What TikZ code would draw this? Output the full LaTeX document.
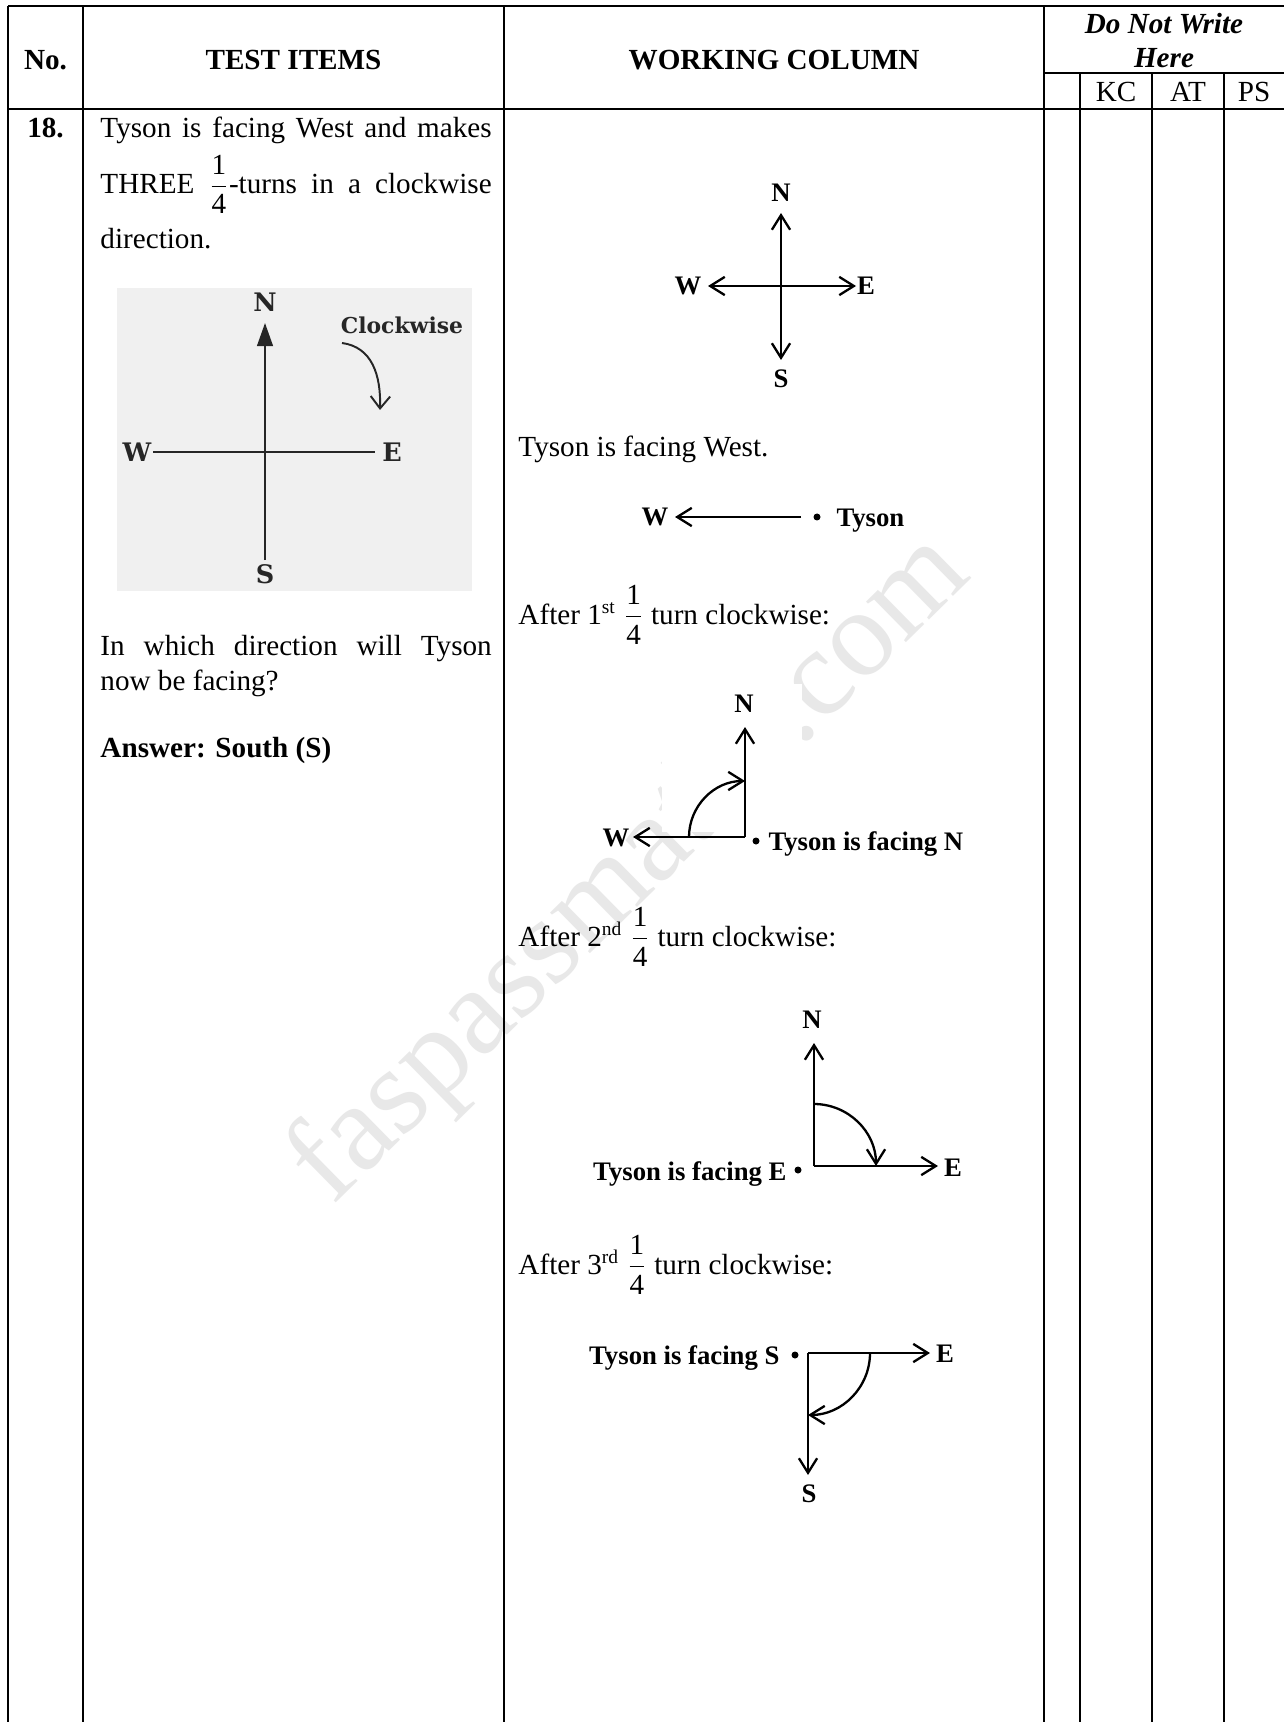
\documentclass[tikz,border=0pt]{standalone}
\usepackage{fontspec}
\setmainfont{Liberation Serif}
\newfontfamily\scanfont{DejaVu Serif}
\usetikzlibrary{arrows.meta}
\newcommand{\qfrac}{\ensuremath{\displaystyle\frac{\mbox{1}}{\mbox{4}}}}
\begin{document}
\begin{tikzpicture}[x=0.4115pt,y=-0.4115pt,
  tbl/.style={line width=0.85pt},
  hdr/.style={font=\fontsize{12}{14}\selectfont\bfseries, inner sep=0, anchor=base},
  hdn/.style={font=\fontsize{12}{14}\selectfont, inner sep=0, anchor=base},
  txt/.style={font=\fontsize{12}{14}\selectfont, inner sep=0, anchor=base west},
  lbl/.style={font=\fontsize{11}{13}\selectfont\bfseries, inner sep=0},
  cmp/.style={line width=0.95pt, -{Straight Barb[length=6pt,width=7.5pt]}},
  scan/.style={font=\scanfont\bfseries\fontsize{10.5}{12}\selectfont, text=black!85, inner sep=0},
  sline/.style={line width=0.8pt, draw=black!85},
  wmark/.style={font=\fontsize{51}{51}\selectfont, text=black!9, inner sep=0}
]
\useasboundingbox (0,0) rectangle (1284,1722);
\fill[white] (0,0) rectangle (1284,1722);

% watermark
\node[wmark, rotate=44.5] (wm) at (632,870) {faspassmaths.com};
\fill[white] (662,684) rectangle (802,832);

% table
\draw[tbl] (8,6) -- (1284,6);
\draw[tbl] (8,109) -- (1284,109);
\draw[tbl] (1044,73) -- (1284,73);
\draw[tbl] (8,6) -- (8,1722);
\draw[tbl] (83,6) -- (83,1722);
\draw[tbl] (504,6) -- (504,1722);
\draw[tbl] (1044,6) -- (1044,1722);
\draw[tbl] (1080,73) -- (1080,1722);
\draw[tbl] (1152,73) -- (1152,1722);
\draw[tbl] (1224,73) -- (1224,1722);

% header
\node[hdr] (hno) at (45.5,70) {No.};
\node[hdr] (hti) at (293.5,70) {TEST ITEMS};
\node[hdr] (hwc) at (774,70) {WORKING COLUMN};
\node[hdr, font=\fontsize{12}{14}\selectfont\bfseries\itshape] (hdn1) at (1164,34) {Do Not Write};
\node[hdr, font=\fontsize{12}{14}\selectfont\bfseries\itshape] (hdn2) at (1164,68) {Here};
\node[hdn] (hkc) at (1116,102) {KC};
\node[hdn] (hat) at (1188,102) {AT};
\node[hdn] (hps) at (1254,102) {PS};

% left column
\node[hdr] (num) at (45.5,138) {18.};
\node[txt] (l1) at (100,138) {\makebox[161pt][s]{Tyson is facing West and makes}};
\node[txt] (l2) at (100,194) {\makebox[161pt][s]{THREE \qfrac-turns in a clockwise}};
\node[txt] (l3) at (100,249) {direction.};
\node[txt] (l4) at (100,655) {\makebox[161pt][s]{In which direction will Tyson}};
\node[txt] (l5) at (100,690) {now be facing?};
\node[txt, font=\fontsize{12}{14}\selectfont\bfseries] (l6) at (100,757) {Answer: South (S)};

% scanned compass
\fill[black!6] (117,288) rectangle (472,591);
\coordinate (sn) at (265,323);
\coordinate (ss) at (265,560);
\coordinate (sw) at (153,452);
\coordinate (se) at (375,452);
\draw[sline] (sw) -- (se);
\draw[sline, -{Triangle[length=9.5pt,width=6.5pt]}] (ss) -- (sn);
\node[scan] (snl) at (265,302) {N};
\node[scan] (swl) at (137,452) {W};
\node[scan] (sel) at (392,452) {E};
\node[scan] (ssl) at (265,574) {S};
\node[scan, font=\scanfont\bfseries\fontsize{9}{10}\selectfont] (scw) at (402,325) {Clockwise};
\coordinate (cw1) at (342,343);
\coordinate (cw2) at (380,410);
\draw[sline, -{Straight Barb[length=5pt,width=8pt]}] (cw1) .. controls (372,347) and (381,375) .. (cw2);

% working column: diagram 1
\coordinate (c1) at (781,286);
\coordinate (c1n) at (781,213);
\coordinate (c1s) at (781,360);
\coordinate (c1w) at (708,286);
\coordinate (c1e) at (856,286);
\draw[cmp] (c1) -- (c1n);
\draw[cmp] (c1) -- (c1s);
\draw[cmp] (c1) -- (c1w);
\draw[cmp] (c1) -- (c1e);
\node[lbl] (n1) at (781,193) {N};
\node[lbl] (s1) at (781,379) {S};
\node[lbl] (w1) at (688,286) {W};
\node[lbl] (e1) at (866,286) {E};

\node[txt] (t1) at (518,457) {Tyson is facing West.};

% diagram 2
\node[lbl] (w2) at (655,517) {W};
\coordinate (d2a) at (801,517);
\coordinate (d2t) at (675,517);
\draw[cmp] (d2a) -- (d2t);
\fill (817,517) circle (3.5);
\node[lbl, anchor=base west] (ty2) at (836,526) {Tyson};

\node[txt] (t2) at (518,624) {After 1\textsuperscript{st} \qfrac\ turn clockwise:};

% diagram 3
\coordinate (c3) at (745,837);
\coordinate (c3n) at (745,727);
\coordinate (c3w) at (633,837);
\draw[cmp] (c3) -- (c3n);
\draw[cmp] (c3) -- (c3w);
\node[lbl] (n3) at (744,704) {N};
\node[lbl] (w3) at (616,838) {W};
\draw[cmp] (689,837) .. controls (689,806.1) and (714.1,781) .. (745,781);
\fill (756,841) circle (3.5);
\node[lbl, anchor=base west] (ty3) at (768,850) {Tyson is facing N};

\node[txt] (t3) at (518,946) {After 2\textsuperscript{nd} \qfrac\ turn clockwise:};

% diagram 4
\coordinate (c4) at (814,1166);
\coordinate (c4n) at (814,1043);
\coordinate (c4e) at (938,1166);
\draw[cmp] (c4) -- (c4n);
\draw[cmp] (c4) -- (c4e);
\node[lbl] (n4) at (812,1020) {N};
\node[lbl] (e4) at (953,1168) {E};
\draw[cmp] (814,1104) .. controls (848.2,1104) and (876,1131.8) .. (876,1166);
\fill (798,1170) circle (3.5);
\node[lbl, anchor=base east] (ty4) at (787,1180) {Tyson is facing E};

\node[txt] (t4) at (518,1274) {After 3\textsuperscript{rd} \qfrac\ turn clockwise:};

% diagram 5
\coordinate (c5) at (808,1353);
\coordinate (c5e) at (930,1353);
\coordinate (c5s) at (808,1475);
\draw[cmp] (c5) -- (c5e);
\draw[cmp] (c5) -- (c5s);
\node[lbl] (e5) at (945,1354) {E};
\node[lbl] (s5) at (809,1494) {S};
\draw[cmp] (870,1353) .. controls (870,1387.2) and (842.2,1415) .. (808,1415);
\fill (795,1355) circle (3.5);
\node[lbl, anchor=base east] (ty5) at (780,1364) {Tyson is facing S};
\end{tikzpicture}
\end{document}
